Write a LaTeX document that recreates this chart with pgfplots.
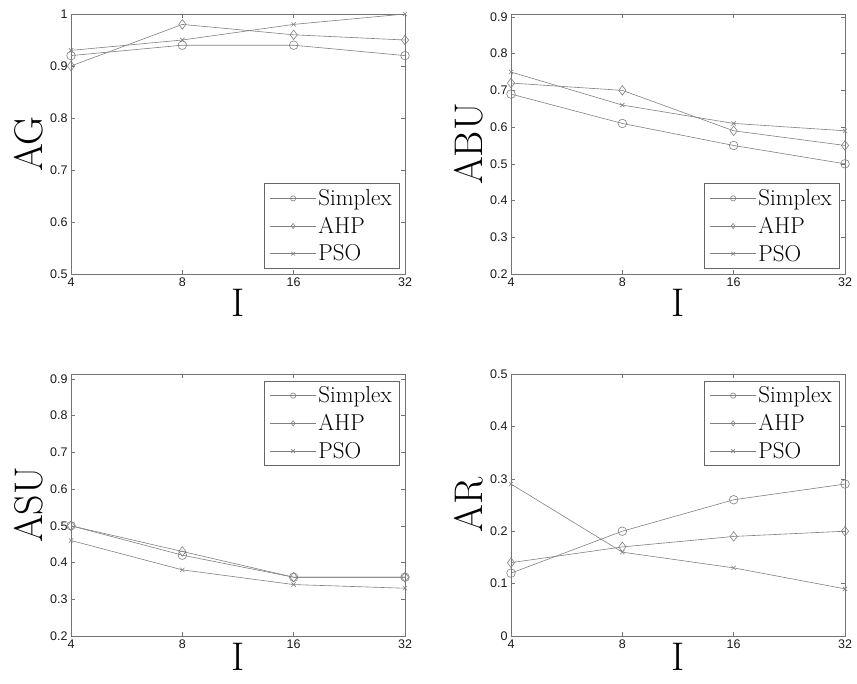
\documentclass[border=0pt]{standalone}
\usepackage{fontspec}
\newfontfamily\helv{Liberation Sans}
\usepackage{pgfplots}
\pgfplotsset{compat=1.18}

\pgfplotsset{
  every axis/.append style={
    scale only axis,
    width=334pt, height=260pt,
    anchor=north west,
    xmin=4, xmax=32,
    xtick={4,8,16,32}, xticklabels={4,8,16,32},
    tick align=inside, tick pos=both,
    major tick length=4pt,
    axis line style={black!55, line width=0.6pt},
    tick style={black!55, line width=0.5pt},
    /pgf/number format/assume math mode=true,
    ticklabel style={font=\helv\fontsize{12.5}{12.5}\selectfont, text=black!90},
    label style={font=\fontsize{40}{40}\selectfont},
    xlabel={I},
    xlabel style={yshift=4pt},
    legend cell align=left,
    legend style={font=\fontsize{23}{25}\selectfont, draw=black!60, line width=0.6pt,
      inner xsep=6pt, inner ysep=4pt, row sep=6pt},
    legend image code/.code={
      \draw[mark size=2.6pt, mark repeat=2, mark phase=2]
        plot coordinates {(0pt,0pt) (23pt,0pt) (46pt,0pt)};},
    every axis plot/.append style={black!50, line width=0.6pt},
  },
  simplex/.style={mark=o, mark size=4.3pt},
  ahp/.style={mark=diamond, mark size=4.8pt},
  pso/.style={mark=x, mark size=3pt},
}

\begin{document}
\begin{tikzpicture}

% AG
\begin{axis}[xmode=log, log basis x=2, at={(71pt,-14pt)},
  ymin=0.5, ymax=1, ytick={0.5,0.6,0.7,0.8,0.9,1},
  ylabel={AG},
  legend style={at={(0.985,0.02)}, anchor=south east}]
  \addplot[simplex] coordinates {(4,0.92) (8,0.94) (16,0.94) (32,0.92)};
  \addplot[ahp] coordinates {(4,0.90) (8,0.98) (16,0.96) (32,0.95)};
  \addplot[pso] coordinates {(4,0.93) (8,0.95) (16,0.98) (32,1.00)};
  \legend{Simplex, AHP, PSO}
\end{axis}

% ABU
\begin{axis}[xmode=log, log basis x=2, at={(511pt,-14pt)},
  ymin=0.2, ymax=0.908, ytick={0.2,0.3,0.4,0.5,0.6,0.7,0.8,0.9},
  ylabel={ABU},
  legend style={at={(0.985,0.02)}, anchor=south east}]
  \addplot[simplex] coordinates {(4,0.69) (8,0.61) (16,0.55) (32,0.50)};
  \addplot[ahp] coordinates {(4,0.72) (8,0.70) (16,0.59) (32,0.55)};
  \addplot[pso] coordinates {(4,0.75) (8,0.66) (16,0.61) (32,0.59)};
  \legend{Simplex, AHP, PSO}
\end{axis}

% ASU
\begin{axis}[xmode=log, log basis x=2, at={(71pt,-374pt)}, height=262pt,
  ymin=0.2, ymax=0.913, ytick={0.2,0.3,0.4,0.5,0.6,0.7,0.8,0.9},
  ylabel={ASU}, xlabel style={yshift=8pt},
  legend style={at={(0.985,0.975)}, anchor=north east}]
  \addplot[simplex] coordinates {(4,0.50) (8,0.42) (16,0.36) (32,0.36)};
  \addplot[ahp] coordinates {(4,0.50) (8,0.43) (16,0.36) (32,0.36)};
  \addplot[pso] coordinates {(4,0.46) (8,0.38) (16,0.34) (32,0.33)};
  \legend{Simplex, AHP, PSO}
\end{axis}

% AR
\begin{axis}[xmode=log, log basis x=2, at={(511pt,-374pt)}, height=262pt,
  ymin=0, ymax=0.5, ytick={0,0.1,0.2,0.3,0.4,0.5},
  ylabel={AR}, xlabel style={yshift=8pt},
  legend style={at={(0.985,0.975)}, anchor=north east}]
  \addplot[simplex] coordinates {(4,0.12) (8,0.20) (16,0.26) (32,0.29)};
  \addplot[ahp] coordinates {(4,0.14) (8,0.17) (16,0.19) (32,0.20)};
  \addplot[pso] coordinates {(4,0.29) (8,0.16) (16,0.13) (32,0.09)};
  \legend{Simplex, AHP, PSO}
\end{axis}

\pgfresetboundingbox
\path[use as bounding box] (0pt,0pt) rectangle (857pt,-683pt);
\end{tikzpicture}
\end{document}
